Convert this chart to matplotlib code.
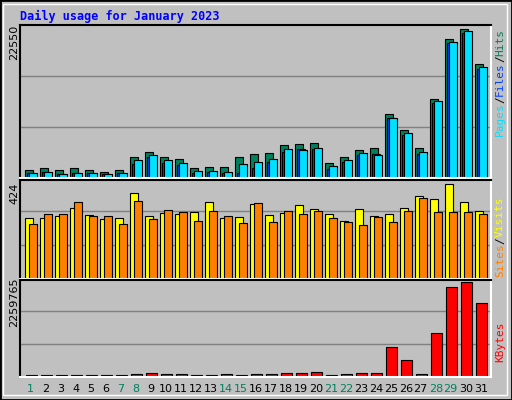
import matplotlib
matplotlib.use("Agg")
import matplotlib.pyplot as plt
from matplotlib.patches import Rectangle
import numpy as np

days = list(range(1, 32))
weekend = [1, 7, 8, 14, 15, 21, 22, 28, 29]
hits = [1240, 1540, 1240, 1540, 1240, 940, 1240, 3030, 3770, 3030, 2730, 1540, 1690, 1690, 3030, 3470,
        3620, 4810, 4960, 5110, 2280, 3030, 4070, 4360, 9420, 7040, 4360, 11660, 20430, 21920, 16860]
files = [790, 940, 650, 790, 790, 650, 790, 2130, 3030, 2280, 1980, 790, 940, 790, 790, 1540,
         2430, 3770, 4220, 4220, 1390, 2430, 3320, 3470, 8830, 6300, 3470, 11060, 19840, 21330, 16120]
pages = [790, 940, 650, 790, 790, 650, 790, 2580, 3320, 2580, 2280, 1090, 1090, 940, 2130, 2430,
         2730, 4220, 4070, 4360, 1840, 2580, 3620, 3320, 8830, 6600, 3770, 11360, 19990, 21630, 16420]
visits = [253, 253, 262, 296, 266, 249, 253, 360, 262, 275, 270, 279, 322, 253, 258, 313,
          266, 275, 309, 292, 270, 240, 292, 262, 270, 296, 347, 334, 394, 322, 283]
sites = [228, 270, 270, 322, 262, 262, 228, 326, 249, 287, 279, 240, 283, 262, 232, 317,
         236, 283, 270, 283, 253, 236, 223, 258, 236, 283, 339, 279, 279, 279, 270]
kbytes = [45000, 45000, 45000, 45000, 45000, 45000, 45000, 64000, 88000, 64000, 64000, 45000, 45000, 64000,
          45000, 64000, 64000, 88000, 88000, 112000, 45000, 64000, 88000, 88000, 679000, 391000, 80000,
          1014000, 2068000, 2188000, 1709000]

W, H = 512, 400
bg = "#C0C0C0"
fig = plt.figure(figsize=(W / 100, H / 100), dpi=100, facecolor=bg)
fig.patches.append(Rectangle((0, 0), 1, 1, transform=fig.transFigure, fill=False, ec="black", lw=2))
fig.patches.append(Rectangle((3 / W, 5 / H), 1 - 8 / W, 1 - 9 / H, transform=fig.transFigure,
                             fill=False, ec="white", lw=1))
fig.text(20 / W, 1 - 16 / H, "Daily usage for January 2023", color="#0000FF", fontsize=8.5,
         family="DejaVu Sans Mono", weight="bold", va="center")

x = np.array(days)


def panel(y0, y1):
    ax = fig.add_axes([20 / W, 1 - y1 / H, 471 / W, (y1 - y0) / H])
    ax.set_facecolor(bg)
    ax.set_xlim(0.25, 31.65)
    ax.set_xticks([])
    ax.set_yticks([])
    for s in ["top", "left"]:
        ax.spines[s].set_color("black")
    for s in ["bottom", "right"]:
        ax.spines[s].set_color("white")
    for s in ax.spines.values():
        s.set_linewidth(1.5)
    return ax


kw = dict(edgecolor="black", linewidth=0.8, align="edge")

ax1 = panel(25, 178)
ax1.set_ylim(0, 22550)
for g in [22550 / 3, 2 * 22550 / 3]:
    ax1.axhline(g, color="#808080", lw=1, zorder=0)
ax1.bar(x - 0.4, hits, 0.49, color="#00805C", **kw)
ax1.bar(x - 0.27, files, 0.49, color="#0040FF", **kw)
ax1.bar(x - 0.13, pages, 0.49, color="#00E0FF", **kw)
fig.text(14 / W, 1 - 42 / H, "22550", rotation=90, fontsize=8, ha="center", va="center")

ax2 = panel(180, 279)
top2 = 424 * 290 / 298
ax2.set_ylim(0, top2)
for g in [424 / 3, 2 * 424 / 3]:
    ax2.axhline(g, color="#808080", lw=1, zorder=0)
ax2.bar(x - 0.4, visits, 0.53, color="#FFFF00", **kw)
ax2.bar(x - 0.13, sites, 0.49, color="#FF8000", **kw)
fig.text(14 / W, 1 - 193 / H, "424", rotation=90, fontsize=8, ha="center", va="center")

ax3 = panel(280, 377)
ax3.set_ylim(0, 2259765 * 287 / 291)
for g in [2259765 / 3, 2 * 2259765 / 3]:
    ax3.axhline(g, color="#808080", lw=1, zorder=0)
ax3.bar(x - 0.36, kbytes, 0.71, color="#FF0000", **kw)
fig.text(14 / W, 1 - 302 / H, "2259765", rotation=90, fontsize=8, ha="center", va="center")

for d in days:
    fig.text((20 + (d - 0.25) * 15.0 - 0.5) / W, 1 - 389 / H, str(d), fontsize=8, ha="center", va="center",
             color="#00805C" if d in weekend else "black")


def side(parts, ytop):
    # rotated legend text on the right side, read bottom to top, ending at ytop
    step = 8 * 0.602 * 100 / 72
    n = sum(len(t) for t, c in parts)
    y = ytop + n * step
    for t, c in parts:
        fig.text(500 / W, 1 - y / H, t, rotation=90, fontsize=8, family="DejaVu Sans Mono",
                 color=c, ha="center", va="bottom", rotation_mode="anchor" if False else "default")
        y -= len(t) * step


side([("Pages", "#00E0FF"), ("/", "black"), ("Files", "#0040FF"), ("/", "black"), ("Hits", "#00805C")], 29)
side([("Sites", "#FF8000"), ("/", "black"), ("Visits", "#FFFF00")], 197)
side([("KBytes", "#FF0000")], 322)

fig.savefig("out.png", dpi=100, facecolor=bg)
